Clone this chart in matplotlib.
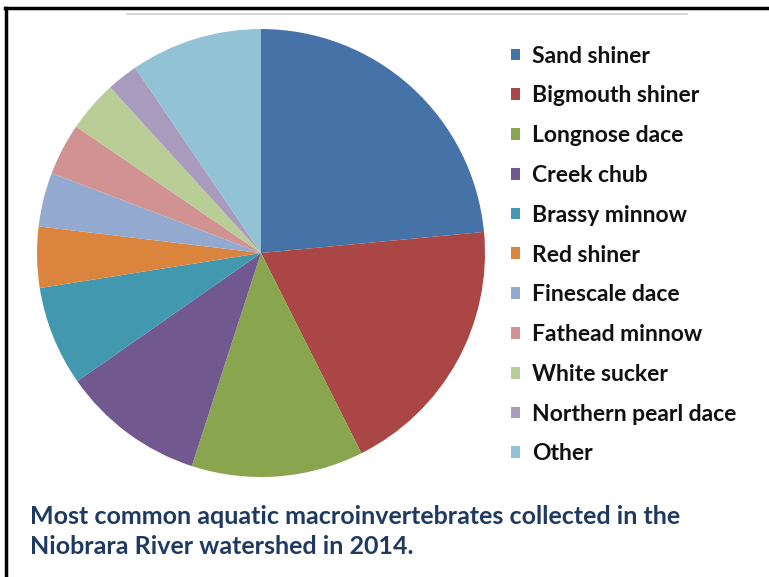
import matplotlib
matplotlib.use("Agg")
import matplotlib.pyplot as plt
from matplotlib.patches import Patch
from matplotlib.lines import Line2D

plt.rcParams['font.family'] = ['Lato', 'DejaVu Sans']

# species share (percent)
species = ["Sand shiner", "Bigmouth shiner", "Longnose dace", "Creek chub",
           "Brassy minnow", "Red shiner", "Finescale dace", "Fathead minnow",
           "White sucker", "Northern pearl dace", "Other"]
shares = [23.5, 19.1, 12.4, 10.3, 7.2, 4.4, 3.9, 3.75, 3.7, 2.25, 9.5]
colors = ["#4572A7", "#AA4643", "#89A54E", "#71588F", "#4198AF", "#DB843D",
          "#93A9CF", "#D19392", "#B9CD96", "#A99BBD", "#92C3D5"]

caption = ("Most common aquatic macroinvertebrates collected in the\n"
           "Niobrara River watershed in 2014.")

fig = plt.figure(figsize=(7.69, 5.77), dpi=100)

# pie area
ax = fig.add_axes([0.0481, 0.1733, 0.5826, 0.7764])
ax.pie(shares, colors=colors, startangle=90, counterclock=False,
       radius=1.0, wedgeprops=dict(linewidth=0))
ax.set_xlim(-1, 1)
ax.set_ylim(-1, 1)
ax.set_aspect('equal')
ax.axis('off')

# legend
handles = [Patch(facecolor=c, edgecolor='none') for c in colors]
leg = fig.legend(handles, species, loc='upper left',
                 bbox_to_anchor=(0.664, 0.921), frameon=False,
                 prop=dict(weight='bold', size=16.5),
                 handlelength=0.41, handleheight=0.41, handletextpad=0.52,
                 labelspacing=0.82, borderaxespad=0, borderpad=0)
for t in leg.get_texts():
    t.set_color('#111111')

# caption
fig.text(0.039, 0.079, caption, fontsize=18, fontweight='bold',
         color='#1F3A60', ha='left', va='center', linespacing=1.33)

# frame lines
fig.add_artist(Line2D([0.006, 1.0], [0.987, 0.987], color='black', lw=2.5))
fig.add_artist(Line2D([0.0075, 0.0075], [0.0, 0.987], color='black', lw=2.5))
fig.add_artist(Line2D([0.165, 0.893], [0.976, 0.976], color='#d0d0d0', lw=1.2))

fig.savefig("out.png", dpi=100)
